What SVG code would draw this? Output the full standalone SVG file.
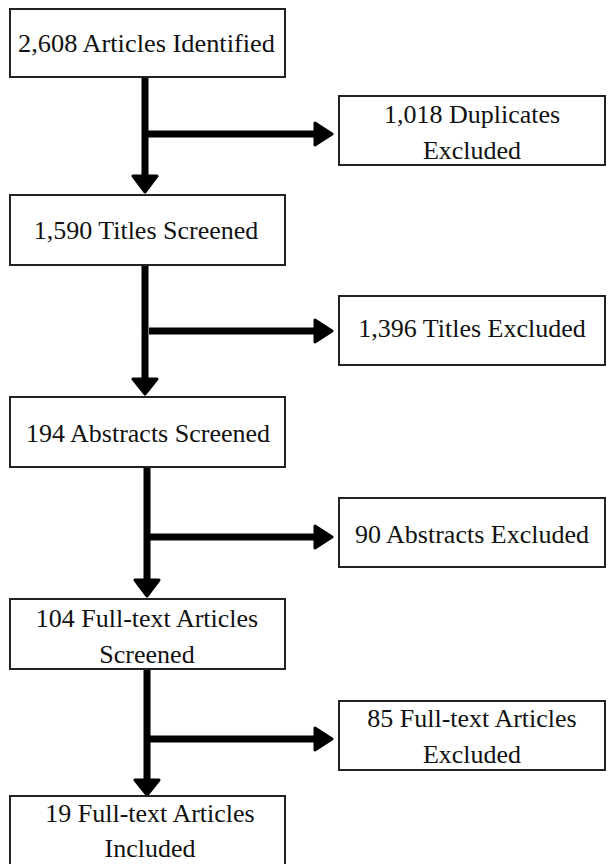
<svg xmlns="http://www.w3.org/2000/svg" width="608" height="864" viewBox="0 0 608 864">
<style>
.box{fill:#fff;stroke:#222;stroke-width:2}
.t{font-family:'Liberation Serif','Times New Roman',serif;font-size:26px;fill:#111;text-anchor:middle}
.ln{stroke:#000;stroke-width:7;fill:none}
.hd{fill:#000;stroke:#000;stroke-width:3;stroke-linejoin:round}
</style>
<rect width="608" height="864" fill="#fff"/>
<g id="connectors">
<path class="ln" d="M145 77V176M145 134H315"/>
<path class="hd" d="M133 176H157L145 192Z M315 123L332 134L315 145Z"/>
<path class="ln" d="M145 265V379M149 331H315"/>
<path class="hd" d="M133 379H157L145 394Z M315 320L332 331L315 342Z"/>
<path class="ln" d="M147 467V580M149 537H315"/>
<path class="hd" d="M135 580H159L147 596Z M315 526L332 537L315 548Z"/>
<path class="ln" d="M147 669V780M149 739H315"/>
<path class="hd" d="M135 780H159L147 795Z M315 728L332 739L315 750Z"/>
</g>
<g id="n1"><rect class="box" x="10" y="9" width="275" height="68"/><text class="t" x="146.5" y="52" textLength="257" lengthAdjust="spacingAndGlyphs">2,608 Articles Identified</text></g>
<g id="n2"><rect class="box" x="339" y="96" width="266" height="69"/><text class="t" x="472" y="123">1,018 Duplicates</text><text class="t" x="472" y="159">Excluded</text></g>
<g id="n3"><rect class="box" x="10" y="195" width="275" height="70"/><text class="t" x="146" y="239">1,590 Titles Screened</text></g>
<g id="n4"><rect class="box" x="339" y="296" width="266" height="69"/><text class="t" x="472" y="337">1,396 Titles Excluded</text></g>
<g id="n5"><rect class="box" x="10" y="397" width="275" height="70"/><text class="t" x="148" y="442">194 Abstracts Screened</text></g>
<g id="n6"><rect class="box" x="339" y="498" width="266" height="69"/><text class="t" x="472" y="543">90 Abstracts Excluded</text></g>
<g id="n7"><rect class="box" x="10" y="599" width="275" height="70"/><text class="t" x="147" y="627">104 Full-text Articles</text><text class="t" x="147" y="663">Screened</text></g>
<g id="n8"><rect class="box" x="339" y="701" width="266" height="69"/><text class="t" x="472" y="727">85 Full-text Articles</text><text class="t" x="472" y="763">Excluded</text></g>
<g id="n9"><rect class="box" x="10" y="796" width="275" height="80"/><text class="t" x="150" y="822">19 Full-text Articles</text><text class="t" x="150" y="857">Included</text></g>
</svg>
